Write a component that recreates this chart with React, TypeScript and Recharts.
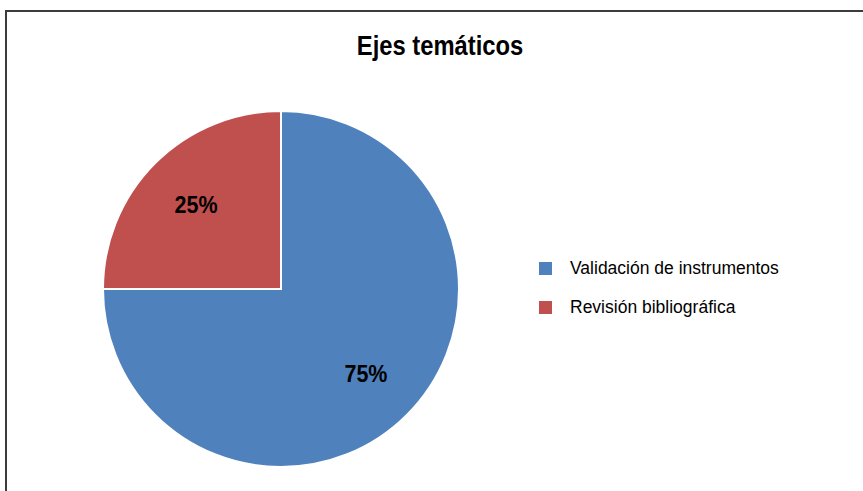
import { Pie, PieChart, Cell } from "recharts";

const categories = ["Validación de instrumentos", "Revisión bibliográfica"];
const values = [75, 25];
const colors = ["#4F81BD", "#C0504D"];

const data = categories.map((name, i) => ({ name, value: values[i] }));

const FONT = '"Liberation Sans", Arial, sans-serif';
const RAD = Math.PI / 180;

function renderLabel(props: any) {
  const { cx, cy, midAngle, outerRadius, percent } = props;
  const r = outerRadius * 0.675;
  const x = cx + r * Math.cos(-midAngle * RAD);
  const y = cy + r * Math.sin(-midAngle * RAD);
  return (
    <text
      x={x}
      y={y}
      textAnchor="middle"
      dominantBaseline="central"
      fill="#000"
      fontFamily={FONT}
      fontWeight="bold"
      fontSize={24}
      textLength={43}
      lengthAdjust="spacingAndGlyphs"
    >
      {`${Math.round(percent * 100)}%`}
    </text>
  );
}

export default function App() {
  return (
    <div
      style={{
        position: "absolute",
        left: 0,
        top: 0,
        width: 863,
        height: 491,
        overflow: "hidden",
        background: "#fff",
      }}
    >
      <div
        style={{
          position: "absolute",
          left: 5,
          top: 10,
          width: 880,
          height: 500,
          border: "2px solid #3c3c3c",
          boxSizing: "border-box",
        }}
      />
      <div
        style={{
          position: "absolute",
          left: 0,
          top: 31,
          width: 880,
          textAlign: "center",
          fontFamily: FONT,
          fontWeight: "bold",
          fontSize: 27,
          color: "#000",
          transform: "scaleX(0.88)",
          transformOrigin: "440px 0",
        }}
      >
        Ejes temáticos
      </div>
      <PieChart
        width={863}
        height={491}
        margin={{ top: 0, right: 0, bottom: 0, left: 0 }}
        style={{ position: "absolute", left: 0, top: 0 }}
      >
        <Pie
          data={data}
          dataKey="value"
          nameKey="name"
          cx={281}
          cy={289}
          outerRadius={178}
          startAngle={90}
          endAngle={-270}
          stroke="#fff"
          strokeWidth={2}
          label={renderLabel}
          labelLine={false}
          isAnimationActive={false}
        >
          {data.map((d, i) => (
            <Cell key={d.name} fill={colors[i]} />
          ))}
        </Pie>
      </PieChart>
      <div
        style={{
          position: "absolute",
          left: 539,
          top: 249,
          fontFamily: FONT,
          fontSize: 17.5,
          color: "#000",
        }}
      >
        {data.map((d, i) => (
          <div key={d.name} style={{ display: "flex", alignItems: "center", height: 39 }}>
            <span
              style={{
                display: "inline-block",
                width: 13,
                height: 13,
                background: colors[i],
                marginRight: 18,
              }}
            />
            <span>{d.name}</span>
          </div>
        ))}
      </div>
    </div>
  );
}
